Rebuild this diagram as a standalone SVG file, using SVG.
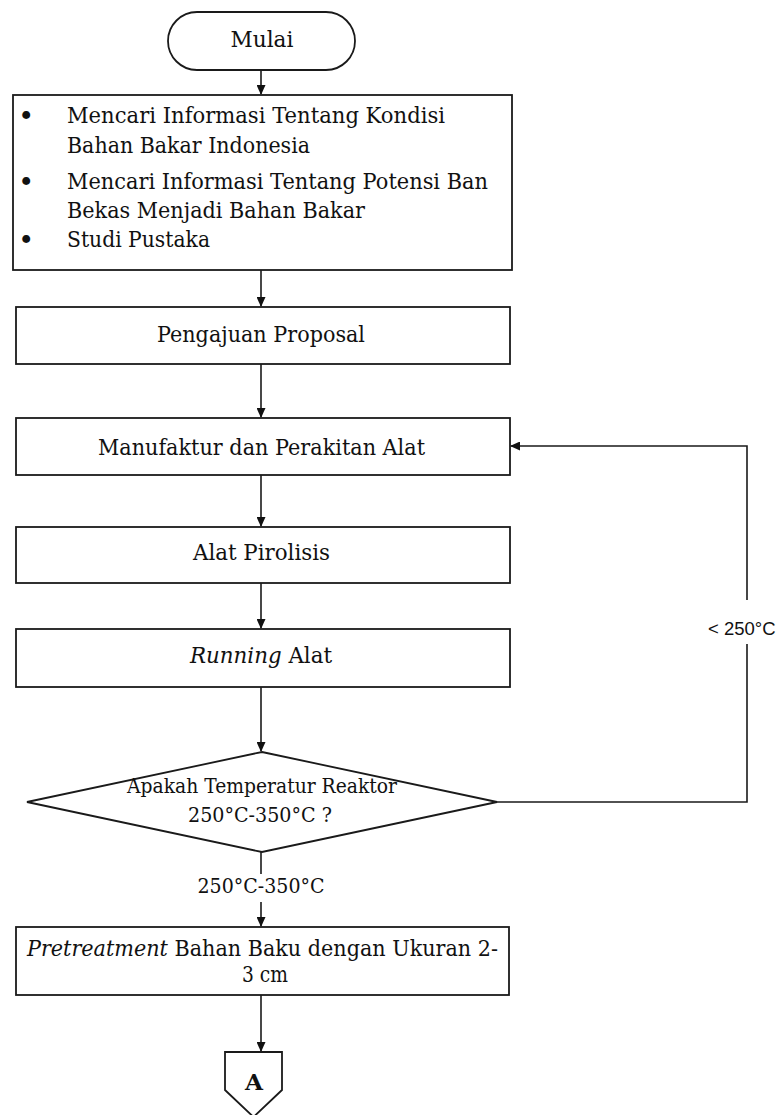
<svg xmlns="http://www.w3.org/2000/svg" width="782" height="1115" viewBox="0 0 782 1115">
<style>
.s{fill:#fff;stroke:#1a1a1a;stroke-width:1.8}
.c{fill:none;stroke:#1a1a1a;stroke-width:1.6}
.m{text-anchor:middle}
</style>
<defs>
<marker id="ah" markerWidth="10" markerHeight="9" refX="9" refY="4.5" orient="auto" markerUnits="userSpaceOnUse">
<path d="M0,0 L10,4.5 L0,9 Z" fill="#111"/>
</marker>
</defs>
<rect width="782" height="1115" fill="#fff"/>
<g id="connectors">
<line class="c" x1="261" y1="70" x2="261" y2="94" marker-end="url(#ah)"/>
<line class="c" x1="261" y1="270" x2="261" y2="306" marker-end="url(#ah)"/>
<line class="c" x1="261" y1="364" x2="261" y2="417" marker-end="url(#ah)"/>
<line class="c" x1="261" y1="475" x2="261" y2="526" marker-end="url(#ah)"/>
<line class="c" x1="261" y1="583" x2="261" y2="628" marker-end="url(#ah)"/>
<line class="c" x1="261" y1="687" x2="261" y2="751" marker-end="url(#ah)"/>
<line class="c" x1="261" y1="852" x2="261" y2="874"/>
<line class="c" x1="261" y1="902" x2="261" y2="926" marker-end="url(#ah)"/>
<line class="c" x1="261" y1="995" x2="261" y2="1051" marker-end="url(#ah)"/>
<polyline class="c" points="497,802 747,802 747,644"/>
<polyline class="c" points="747,600 747,446 511,446" marker-end="url(#ah)"/>
<text x="261" y="893" font-family="DejaVu Serif, Liberation Serif, serif" font-size="20" fill="#111" text-anchor="middle" textLength="127" lengthAdjust="spacingAndGlyphs">250°C-350°C</text>
<text x="708" y="635" font-family="Liberation Sans, Arial, sans-serif" font-size="18.5" fill="#111">&lt; 250°C</text>
</g>
<g font-family="DejaVu Serif, Liberation Serif, serif" font-size="22.5" fill="#111">
<g id="mulai">
<rect class="s" x="168" y="12" width="187" height="58" rx="29" ry="29"/>
<text class="m" x="262" y="47" textLength="63" lengthAdjust="spacingAndGlyphs">Mulai</text>
</g>
<g id="studi">
<rect class="s" x="13" y="95" width="499" height="175"/>
<text x="19" y="123" font-weight="bold">•</text>
<text x="67" y="123" textLength="378" lengthAdjust="spacingAndGlyphs">Mencari Informasi Tentang Kondisi</text>
<text x="67" y="153" textLength="243" lengthAdjust="spacingAndGlyphs">Bahan Bakar Indonesia</text>
<text x="19" y="189" font-weight="bold">•</text>
<text x="67" y="189" textLength="421" lengthAdjust="spacingAndGlyphs">Mencari Informasi Tentang Potensi Ban</text>
<text x="67" y="218" textLength="298" lengthAdjust="spacingAndGlyphs">Bekas Menjadi Bahan Bakar</text>
<text x="19" y="247" font-weight="bold">•</text>
<text x="67" y="247" textLength="143" lengthAdjust="spacingAndGlyphs">Studi Pustaka</text>
</g>
<g id="proposal">
<rect class="s" x="16" y="307" width="494" height="57"/>
<text class="m" x="261" y="342" textLength="208" lengthAdjust="spacingAndGlyphs">Pengajuan Proposal</text>
</g>
<g id="manufaktur">
<rect class="s" x="16" y="418" width="494" height="57"/>
<text class="m" x="261.5" y="455" textLength="327" lengthAdjust="spacingAndGlyphs">Manufaktur dan Perakitan Alat</text>
</g>
<g id="pirolisis">
<rect class="s" x="16" y="527" width="494" height="56"/>
<text class="m" x="261.5" y="560" textLength="137" lengthAdjust="spacingAndGlyphs">Alat Pirolisis</text>
</g>
<g id="running">
<rect class="s" x="16" y="629" width="494" height="58"/>
<text class="m" x="261" y="663" textLength="142" lengthAdjust="spacingAndGlyphs"><tspan font-style="italic">Running</tspan> Alat</text>
</g>
<g id="decision">
<polygon class="s" points="262,752 497,802 262,852 27,802"/>
<text class="m" x="262" y="793" font-size="20.5" textLength="270" lengthAdjust="spacingAndGlyphs">Apakah Temperatur Reaktor</text>
<text class="m" x="260" y="822" font-size="20.5" textLength="144" lengthAdjust="spacingAndGlyphs">250°C-350°C ?</text>
</g>
<g id="pretreatment">
<rect class="s" x="16" y="927" width="493" height="68"/>
<text class="m" x="262.5" y="956" textLength="471" lengthAdjust="spacingAndGlyphs"><tspan font-style="italic">Pretreatment</tspan> Bahan Baku dengan Ukuran 2-</text>
<text class="m" x="265" y="982" textLength="46" lengthAdjust="spacingAndGlyphs">3 cm</text>
</g>
<g id="connector-a">
<polygon class="s" points="225,1052 282,1052 282,1090 253.5,1117 225,1090"/>
<text class="m" x="254" y="1090" font-size="22" font-weight="bold" textLength="18" lengthAdjust="spacingAndGlyphs">A</text>
</g>
</g>
</svg>
